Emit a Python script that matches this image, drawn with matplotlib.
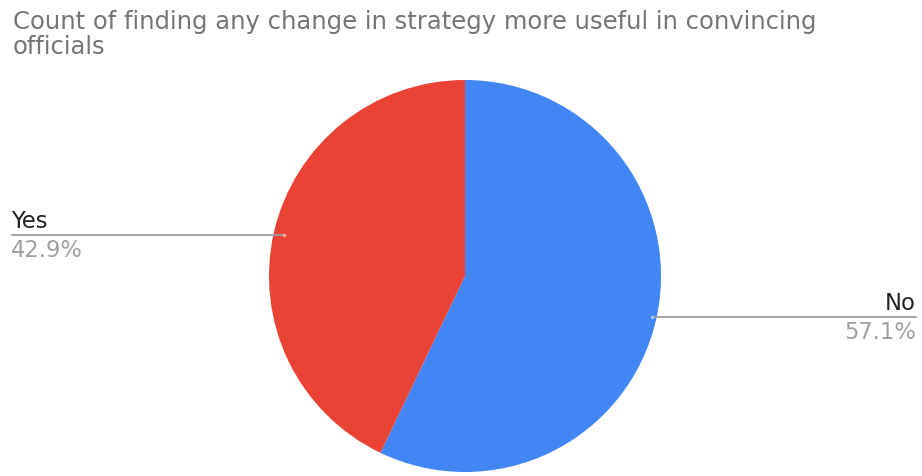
import matplotlib
matplotlib.use("Agg")
import matplotlib.pyplot as plt

plt.rcParams['font.family'] = ['DejaVu Sans']

labels = ["No", "Yes"]
shares = [57.1, 42.9]
colors = ["#4285F4", "#EA4335"]
title_lines = ["Count of finding any change in strategy more useful in convincing",
               "officials"]

W, H = 922, 477
fig = plt.figure(figsize=(W / 100, H / 100), dpi=100)
ax = fig.add_axes([0, 0, 1, 1])

cx, cy, r = 465, H - 277, 196
ax.pie(shares, colors=colors, startangle=90, counterclock=False,
       center=(cx, cy), radius=r, frame=True,
       wedgeprops=dict(linewidth=0))
ax.set_xlim(0, W)
ax.set_ylim(0, H)
ax.set_aspect("equal")
ax.axis("off")

# leader lines + labels outside the pie
line_col = "#9e9e9e"
lab_size = 16.3
# Yes on the left
y_yes = H - 236
ax.plot([12, 284], [y_yes, y_yes], color=line_col, lw=1.3)
ax.plot([284], [y_yes], marker="o", ms=2.5, color="#f4a79f", mec="none")
ax.text(11, H - 228, labels[1], fontsize=lab_size, color="#222222", ha="left", va="baseline")
ax.text(11, H - 257, f"{shares[1]}%", fontsize=lab_size, color="#a0a0a0", ha="left", va="baseline")
# No on the right
y_no = H - 318
ax.plot([652, 916], [y_no, y_no], color=line_col, lw=1.3)
ax.plot([652], [y_no], marker="o", ms=2.5, color="#a9c6fa", mec="none")
ax.text(916, H - 310, labels[0], fontsize=lab_size, color="#222222", ha="right", va="baseline")
ax.text(916, H - 339, f"{shares[0]}%", fontsize=lab_size, color="#a0a0a0", ha="right", va="baseline")

for i, line in enumerate(title_lines):
    fig.text(13 / W, 1 - (29 + 25 * i) / H, line, fontsize=17.45, color="#757575",
             ha="left", va="baseline")

fig.savefig("out.png", dpi=100)
